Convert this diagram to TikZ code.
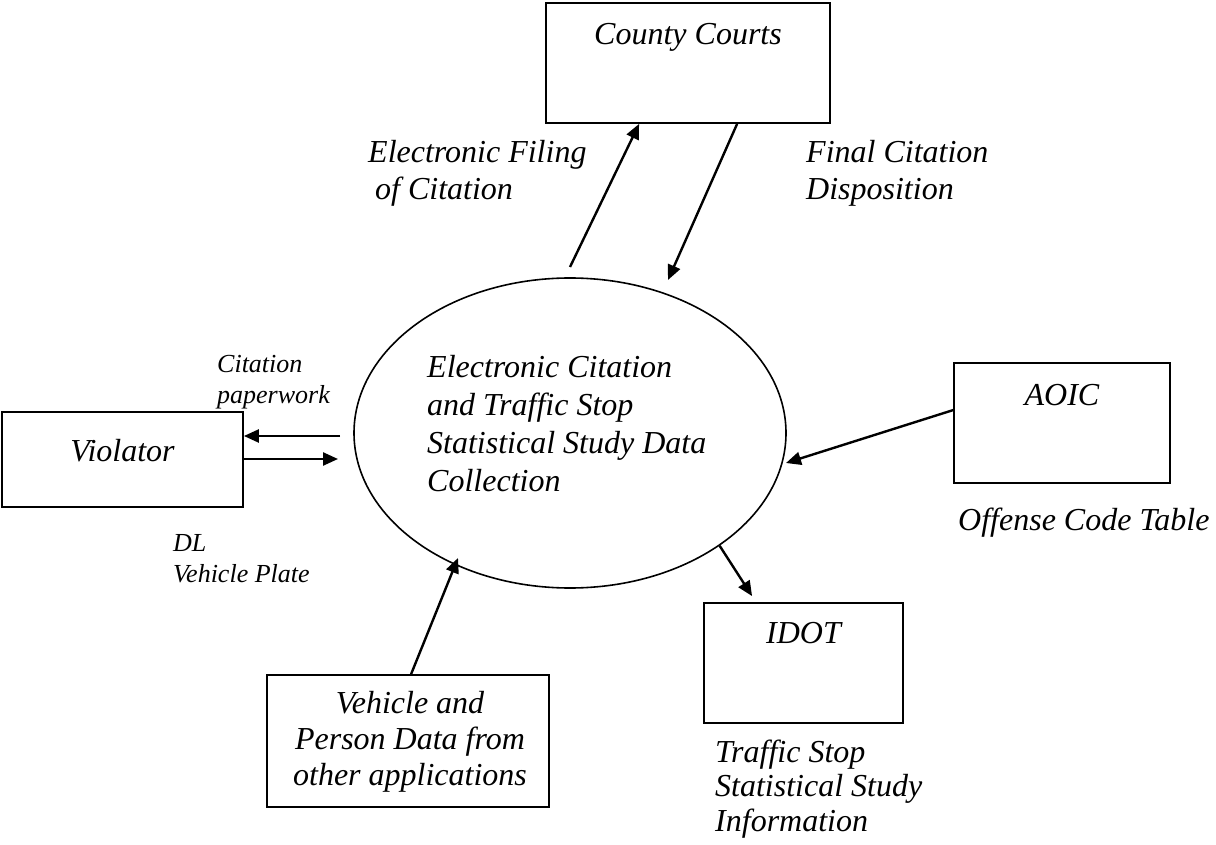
\documentclass[tikz,border=0pt]{standalone}
\usepackage{fontspec}
\setmainfont{Liberation Serif}
\usetikzlibrary{arrows.meta,calc,shapes.geometric}

% struts that fix the height of a label's first line
\newcommand\bigtop{\rule{0pt}{25pt}}
\newcommand\smalltop{\rule{0pt}{21pt}}

\begin{document}
\begin{tikzpicture}[x=1pt,y=-1pt,
  entity/.style 2 args={draw, line width=1.8pt, inner sep=0pt,
    minimum width=#1, minimum height=#2},
  process/.style={draw, ellipse, line width=1.6pt, inner sep=0pt,
    minimum width=432pt, minimum height=310pt},
  bigtxt/.style={inner sep=0pt, font=\fontsize{32}{37}\selectfont\itshape},
  smalltxt/.style={inner sep=0pt, font=\fontsize{26}{31}\selectfont\itshape},
  flow/.style={line width=2.4pt, -{Triangle[length=15pt,width=13pt]}}]

\useasboundingbox (0,0) rectangle (1216,845);

% external entities
\node[entity={284pt}{120pt}] (courts)   at (688,63)    {};
\node[entity={241pt}{95pt}]  (violator) at (122.5,459.5) {};
\node[entity={216pt}{120pt}] (aoic)     at (1062,423)  {};
\node[entity={199pt}{120pt}] (idot)     at (803.5,663) {};
\node[entity={282pt}{132pt}] (vehicle)  at (408,741)   {};

\node[bigtxt, anchor=base] (courtsname) at ($(courts.north)+(0,42)$) {County Courts};
\node[bigtxt, anchor=base] (violname)   at (122.5,461) {Violator};
\node[bigtxt, anchor=base] (aoicname)   at (1062,405)  {AOIC};
\node[bigtxt, anchor=base] (idotname)   at (803.5,643) {IDOT};
\node[bigtxt, anchor=north, align=center, font=\fontsize{32}{36}\selectfont\itshape]
  (vehname) at (410,688)
  {\bigtop Vehicle and\\Person Data from\\other applications};

% the process
\node[process] (core) at (570,433) {};
\node[bigtxt, anchor=north west, align=left, font=\fontsize{32}{38}\selectfont\itshape]
  (corename) at (427,352)
  {\bigtop Electronic Citation\\and Traffic Stop\\Statistical Study Data\\Collection};

% flow labels
\node[bigtxt, anchor=north west, align=left] (filinglbl) at (368,137)
  {\bigtop Electronic Filing\\\hspace*{7pt}of Citation};
\node[bigtxt, anchor=north west, align=left] (displbl) at (806,137)
  {\bigtop Final Citation\\Disposition};
\node[smalltxt, anchor=north west, align=left] (paperlbl) at (217,351)
  {\smalltop Citation\\paperwork};
\node[smalltxt, anchor=north west, align=left] (dllbl) at (173,530)
  {\smalltop DL\\Vehicle Plate};
\node[bigtxt, anchor=north west, align=left] (offlbl) at (958,505)
  {\bigtop Offense Code Table};
\node[bigtxt, anchor=north west, align=left, font=\fontsize{32}{34.5}\selectfont\itshape]
  (statlbl) at (715,737)
  {\bigtop Traffic Stop\\Statistical Study\\Information};

% free ends of the flows
\coordinate (filestart) at (570,267);
\coordinate (dispend)   at (668,280);
\coordinate (paperstart) at (340,436);
\coordinate (dlend)     at (338,459);
\coordinate (aoictip)   at (786,463);
\coordinate (vehtip)    at (458,558);

% data flows
\draw[flow] (filestart) -- ($(courts.south west)+(94,0)$);
\draw[flow] ($(courts.south west)+(192,0)$) -- (dispend);
\draw[flow] (paperstart) -- (violator.east |- paperstart);
\draw[flow] (violator.east |- dlend) -- (dlend);
\draw[flow] ($(aoic.north west)+(0,48)$) -- (aoictip);
\draw[flow] (core.-37.4) -- ($(idot.north west)+(49,-6)$);
\draw[flow] ($(vehicle.north west)+(145,0)$) -- (vehtip);

\end{tikzpicture}
\end{document}
